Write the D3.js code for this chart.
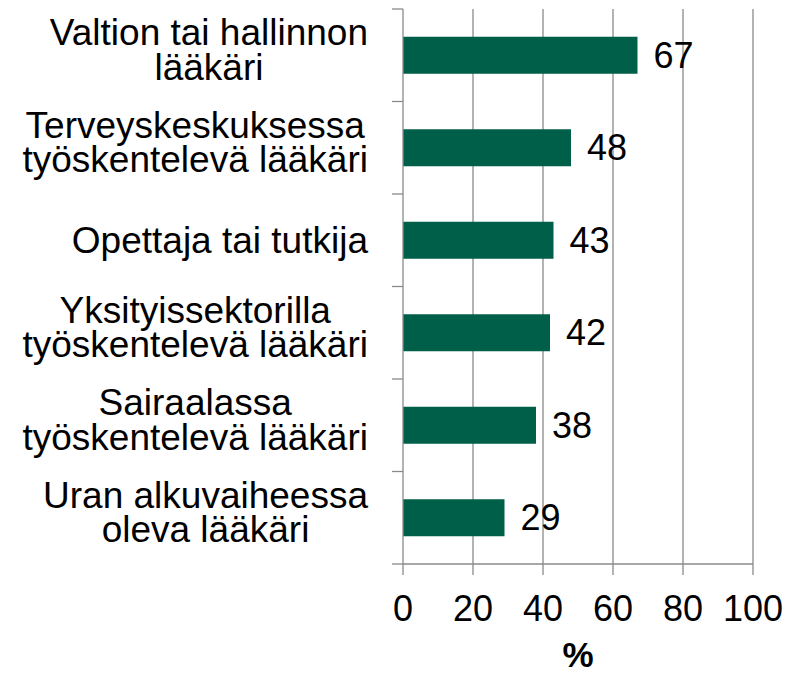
<!doctype html>
<html lang="fi">
  <head>
    <meta charset="utf-8">
    <title>Lääkärit</title>
    <style>
      body {
          margin: 0;
          background: #fff;
          font-family: "Liberation Sans", Arial, sans-serif;
      }
      .cat text {
          font-size: 37px;
          fill: #000;
          text-anchor: middle;
      }
      .val {
          font-size: 36px;
          fill: #000;
      }
      .tick-label {
          font-size: 36px;
          fill: #000;
          text-anchor: middle;
      }
    </style>
    <script src="https://d3js.org/d3.v7.min.js"></script>
  </head>
  <body>
    <script>
      // categories, top to bottom (each one split into its printed lines)
      const categories = [
          ['Valtion tai hallinnon', 'lääkäri'],
          ['Terveyskeskuksessa', 'työskentelevä lääkäri'],
          ['Opettaja tai tutkija'],
          ['Yksityissektorilla', 'työskentelevä lääkäri'],
          ['Sairaalassa', 'työskentelevä lääkäri'],
          ['Uran alkuvaiheessa', 'oleva lääkäri']
      ];
      const values = [67, 48, 43, 42, 38, 29];
      const xTicks = [0, 20, 40, 60, 80, 100];
      const axisTitle = '%';

      const width = 802, height = 673;
      const plotLeft = 403, plotRight = 753, plotTop = 9, plotBottom = 564;
      const gridColor = '#8a8a8a';
      const barColor = '#005f48';

      const svg = d3.select('body').append('svg')
          .attr('width', width)
          .attr('height', height);

      const x = d3.scaleLinear()
          .domain([0, 100])
          .range([plotLeft, plotRight]);

      const y = d3.scaleBand()
          .domain(d3.range(categories.length))
          .range([plotTop, plotBottom])
          .paddingInner(0.6)
          .paddingOuter(0.3);

      const step = y.step();
      const bandTop = i => plotTop + i * step;

      // vertical gridlines
      svg.append('g').selectAll('line')
          .data(xTicks.slice(1))
          .join('line')
          .attr('x1', d => x(d)).attr('x2', d => x(d))
          .attr('y1', plotTop).attr('y2', plotBottom)
          .attr('stroke', gridColor)
          .attr('stroke-width', 1.3);

      // bars
      svg.append('g').selectAll('rect')
          .data(values)
          .join('rect')
          .attr('x', x(0))
          .attr('y', (_, i) => y(i))
          .attr('width', d => x(d) - x(0))
          .attr('height', y.bandwidth())
          .attr('fill', barColor);

      // value labels
      svg.append('g').selectAll('text')
          .data(values)
          .join('text')
          .attr('class', 'val')
          .attr('x', d => x(d) + 16)
          .attr('y', (_, i) => y(i) + y.bandwidth() / 2)
          .attr('dy', '0.35em')
          .text(d => d);

      // y axis line + ticks at band boundaries
      const axes = svg.append('g')
          .attr('stroke', gridColor)
          .attr('stroke-width', 1.3);
      axes.append('line')
          .attr('x1', plotLeft).attr('x2', plotLeft)
          .attr('y1', plotTop).attr('y2', plotBottom);
      axes.selectAll('.ytick')
          .data(d3.range(categories.length + 1))
          .join('line')
          .attr('class', 'ytick')
          .attr('x1', plotLeft - 11).attr('x2', plotLeft)
          .attr('y1', i => bandTop(i)).attr('y2', i => bandTop(i));

      // x axis line + ticks
      axes.append('line')
          .attr('x1', plotLeft).attr('x2', plotRight)
          .attr('y1', plotBottom).attr('y2', plotBottom);
      axes.selectAll('.xtick')
          .data(xTicks)
          .join('line')
          .attr('class', 'xtick')
          .attr('x1', d => x(d)).attr('x2', d => x(d))
          .attr('y1', plotBottom).attr('y2', plotBottom + 11);

      svg.append('g').selectAll('text')
          .data(xTicks)
          .join('text')
          .attr('class', 'tick-label')
          .attr('x', d => x(d))
          .attr('y', 621)
          .text(d => d);

      svg.append('text')
          .attr('x', (plotLeft + plotRight) / 2)
          .attr('y', 667)
          .attr('text-anchor', 'middle')
          .style('font-size', '35px')
          .style('font-weight', 'bold')
          .text(axisTitle);

      // category labels: lines centred on each other, block right-aligned
      const lineH = 34.5, labelRight = 368;
      const cat = svg.append('g').attr('class', 'cat')
          .selectAll('g')
          .data(categories)
          .join('g');

      cat.each(function(lines, i) {
          const g = d3.select(this);
          const cy = bandTop(i) + step / 2;
          const off = lines.length === 1 ? 12.75 : 7;
          const t = g.selectAll('text')
              .data(lines)
              .join('text')
              .attr('y', (_, k) => cy - (lines.length - 1) * lineH / 2 + k * lineH + off)
              .text(d => d);
          // widest line sets the block; the others are centred on it
          let w = 0;
          t.each(function() { w = Math.max(w, this.getComputedTextLength()); });
          t.attr('x', labelRight - w / 2);
      });
    </script>
  </body>
</html>
